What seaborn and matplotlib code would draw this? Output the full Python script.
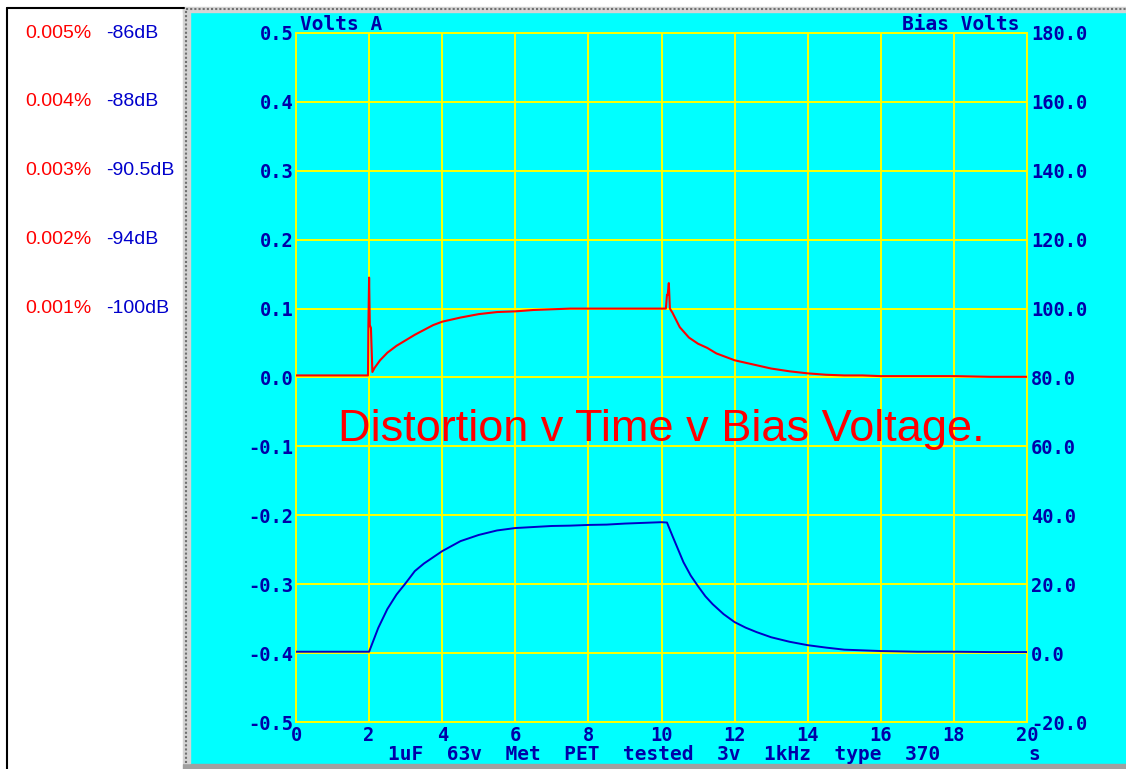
import matplotlib
matplotlib.use("Agg")
import matplotlib.pyplot as plt
import matplotlib.transforms as mtransforms
from matplotlib.patches import Rectangle
from matplotlib.lines import Line2D
from matplotlib.ticker import FormatStrFormatter, MultipleLocator
import seaborn as sns

# distortion trace (Volts A, left axis)
red_t = [0, 0.5, 1.0, 1.5, 1.9, 1.97, 1.98, 2.0, 2.02, 2.05, 2.09, 2.15, 2.3, 2.5,
         2.75, 3.0, 3.25, 3.5, 3.75, 4.0, 4.5, 5.0, 5.5, 6.0, 6.5, 7.0, 7.5, 8.0,
         8.5, 9.0, 9.5, 10.0, 10.12, 10.15, 10.17, 10.2, 10.23, 10.3, 10.5, 10.75,
         11.0, 11.25, 11.5, 11.75, 12.0, 12.5, 13.0, 13.5, 14.0, 14.5, 15.0, 15.5,
         16.0, 17.0, 18.0, 19.0, 20.0]
red_v = [0.003, 0.003, 0.003, 0.003, 0.003, 0.003, 0.074, 0.145, 0.076, 0.072, 0.008,
         0.014, 0.025, 0.036, 0.046, 0.054, 0.062, 0.069, 0.076, 0.081, 0.087, 0.092,
         0.095, 0.096, 0.098, 0.099, 0.100, 0.100, 0.100, 0.100, 0.100, 0.100, 0.100,
         0.120, 0.120, 0.137, 0.100, 0.094, 0.073, 0.058, 0.049, 0.043, 0.035, 0.030,
         0.025, 0.019, 0.013, 0.009, 0.006, 0.004, 0.003, 0.003, 0.002, 0.002, 0.002,
         0.001, 0.001]

# bias voltage trace (Bias Volts, right axis)
blue_t = [0, 0.5, 1.0, 1.5, 2.0, 2.25, 2.5, 2.75, 3.0, 3.25, 3.5, 4.0, 4.5, 5.0, 5.5,
          6.0, 6.5, 7.0, 7.5, 8.0, 8.5, 9.0, 9.5, 10.0, 10.15, 10.3, 10.6, 10.8, 11.0,
          11.2, 11.4, 11.7, 12.0, 12.3, 12.6, 13.0, 13.5, 14.0, 14.5, 15.0, 15.5, 16.0,
          17.0, 18.0, 19.0, 20.0]
blue_v = [0.4, 0.4, 0.4, 0.4, 0.4, 7.3, 12.8, 17.0, 20.3, 23.8, 26.0, 29.6, 32.5, 34.3,
          35.6, 36.3, 36.6, 36.9, 37.0, 37.2, 37.3, 37.6, 37.8, 38.0, 37.9, 34.0, 26.4,
          22.5, 19.4, 16.5, 14.2, 11.3, 9.0, 7.4, 6.1, 4.6, 3.3, 2.3, 1.6, 1.0, 0.8, 0.6,
          0.4, 0.4, 0.3, 0.3]

# side legend
levels = [0.5, 0.4, 0.3, 0.2, 0.1]
pct_labels = ['0.005%', '0.004%', '0.003%', '0.002%', '0.001%']
db_labels = ['-86dB', '-88dB', '-90.5dB', '-94dB', '-100dB']

W, H = 1126, 769
navy = '#0000A8'
mono = {'family': 'DejaVu Sans Mono', 'weight': 'bold'}
tsize = 13.5

sns.set_style("white")
plt.rcParams['font.family'] = ['DejaVu Sans']

fig = plt.figure(figsize=(W / 100, H / 100), dpi=100)
fig.patch.set_facecolor('white')

# window frame pieces
fig.patches.append(Rectangle((190 / W, 6 / H), 1 - 190 / W, 751 / H,
                             transform=fig.transFigure, color='#00FFFF', zorder=0))
fig.patches.append(Rectangle((183 / W, 0), 1 - 183 / W, 5 / H,
                             transform=fig.transFigure, color='#A0A0A0', zorder=1))
fig.patches.append(Rectangle((183 / W, 6 / H), 7 / W, 755 / H,
                             transform=fig.transFigure, color='#D4D4D4', zorder=1))
fig.patches.append(Rectangle((183 / W, 1 - 12 / H), 1 - 183 / W, 5 / H,
                             transform=fig.transFigure, color='#D4D4D4', zorder=1))
fig.lines.append(Line2D([186 / W, 186 / W], [6 / H, 1 - 9 / H], transform=fig.transFigure,
                        color='#707070', lw=1.5, ls=(0, (1, 1)), zorder=2))
fig.lines.append(Line2D([186 / W, 1], [1 - 9 / H, 1 - 9 / H], transform=fig.transFigure,
                        color='#707070', lw=1.5, ls=(0, (1, 1)), zorder=2))
fig.lines.append(Line2D([7 / W, 7 / W], [0, 1 - 8 / H], transform=fig.transFigure,
                        color='black', lw=1.5, zorder=2))
fig.lines.append(Line2D([7 / W, 184 / W], [1 - 8 / H, 1 - 8 / H], transform=fig.transFigure,
                        color='black', lw=1.5, zorder=2))

ax = fig.add_axes([296 / W, 1 - 722 / H, (1027 - 296) / W, (722 - 33) / H])
ax.set_facecolor('#00FFFF')
ax.set_zorder(3)

sns.lineplot(x=red_t, y=red_v, ax=ax, color='#FF0000', lw=1.5, sort=False, zorder=4)
ax.set_xlim(0, 20)
ax.set_ylim(-0.5, 0.5)
ax.xaxis.set_major_locator(MultipleLocator(2))
ax.yaxis.set_major_locator(MultipleLocator(0.1))
ax.yaxis.set_major_formatter(FormatStrFormatter('%.1f'))
ax.grid(True, color='#FFFF00', lw=1.4)
ax.set_axisbelow(True)
for s in ax.spines.values():
    s.set_color('#FFFF00')
    s.set_linewidth(1.4)
ax.tick_params(axis='both', length=0, colors=navy, labelsize=tsize)
ax.tick_params(axis='y', pad=2)
ax.tick_params(axis='x', pad=3)
for lab in ax.get_xticklabels() + ax.get_yticklabels():
    lab.set_fontproperties(mono)
    lab.set_fontsize(tsize)

ax2 = ax.twinx()
sns.lineplot(x=blue_t, y=blue_v, ax=ax2, color='#0000C8', lw=1.4, sort=False)
ax2.set_ylim(-20, 180)
ax2.yaxis.set_major_locator(MultipleLocator(20))
ax2.yaxis.set_major_formatter(FormatStrFormatter('%.1f'))
ax2.tick_params(axis='y', length=0, colors=navy, labelsize=tsize, pad=3)
for lab in ax2.get_yticklabels():
    lab.set_fontproperties(mono)
    lab.set_fontsize(tsize)
for s in ax2.spines.values():
    s.set_visible(False)
ax2.set_ylabel('')

ax.text(10, -0.076, 'Distortion v Time v Bias Voltage.', ha='center', va='center',
        fontsize=32.5, color='#FF0000', family='Liberation Sans', zorder=5)

# axis captions
fig.text(300 / W, 1 - 30 / H, 'Volts A', color=navy, fontsize=14, va='baseline',
         ha='left', **mono)
fig.text(1020 / W, 1 - 30 / H, 'Bias Volts', color=navy, fontsize=14, va='baseline',
         ha='right', **mono)
fig.text(664 / W, 1 - 760 / H, '1uF  63v  Met  PET  tested  3v  1kHz  type  370',
         color=navy, fontsize=14, va='baseline', ha='center', **mono)
fig.text(1034 / W, 1 - 760 / H, 's', color=navy, fontsize=14, va='baseline',
         ha='center', **mono)

# left legend rows aligned with left axis values
tr = mtransforms.blended_transform_factory(fig.transFigure, ax.transData)
for lv, p, d in zip(levels, pct_labels, db_labels):
    fig.text(25 / W, lv, p, transform=tr, color='#FF0000', fontsize=14,
             family='Liberation Sans', va='center', ha='left')
    fig.text(106 / W, lv, d, transform=tr, color='#0000CC', fontsize=14,
             family='Liberation Sans', va='center', ha='left')

fig.savefig('out.png', dpi=100)
